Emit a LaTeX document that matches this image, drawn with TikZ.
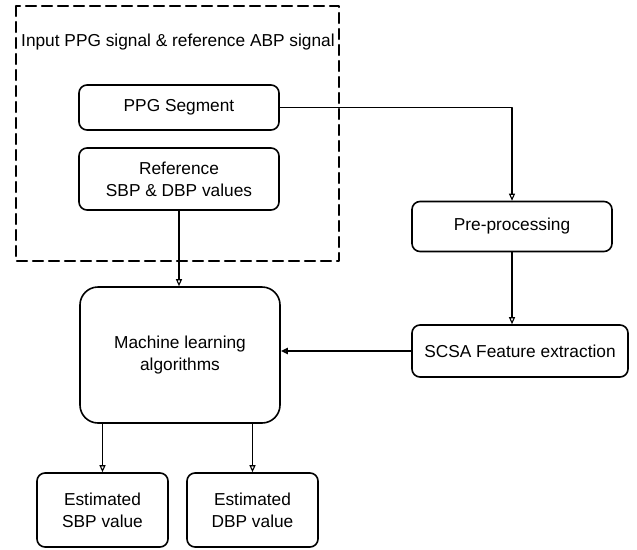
\documentclass[tikz,border=0pt]{standalone}
\usepackage{fontspec}
\setmainfont{Liberation Sans}
\usetikzlibrary{arrows.meta}

\begin{document}
\begin{tikzpicture}[x=1pt,y=-1pt,line cap=round,line join=round,
    font=\fontsize{17.3}{22}\selectfont,
    blk/.style={draw,line width=1.6pt,rounded corners=8pt,align=center,inner sep=0pt},
    flow/.style={-{Triangle[open,length=7pt,width=6pt]},line width=1.1pt}]
	\useasboundingbox (0,0) rectangle (637,549);
	% input block
	\draw [line width=2.2pt,dash pattern=on 10pt off 6pt] (16,6) rectangle (339,261);
	\node[anchor=west,inner sep=0pt] (title) at (21,42) {Input PPG signal \& reference ABP signal};
	\node[blk,minimum width=200pt,minimum height=45pt] (ppg) at (179,107.5) {PPG Segment};
	\node[blk,minimum width=200pt,minimum height=62pt] (ref) at (179,179) {Reference\\SBP \& DBP values};
	% right column
	\node[blk,minimum width=200pt,minimum height=50pt] (pre) at (512,226.5) {Pre-processing};
	\node[blk,minimum width=216pt,minimum height=52pt] (scsa) at (520,351) {SCSA Feature extraction};
	% learning + outputs
	\node[blk,rounded corners=18pt,minimum width=200pt,minimum height=136pt] (ml) at (180,355) {Machine learning\\algorithms};
	\node[blk,minimum width=131pt,minimum height=74pt] (sbp) at (102.5,510) {Estimated\\SBP value};
	\node[blk,minimum width=131pt,minimum height=74pt] (dbp) at (252.5,510) {Estimated\\DBP value};
	% connectors
	\draw [flow] (ppg.east) -| (pre.north);
	\draw [flow] (pre.south) -- (pre.south |- scsa.north);
	\draw [flow] (ref.south) -- (ref.south |- ml.north);
	\draw [flow,line width=2.2pt] (scsa.west) -- (scsa.west -| ml.east);
	\draw [flow] (sbp.north |- ml.south) -- (sbp.north);
	\draw [flow] (dbp.north |- ml.south) -- (dbp.north);
\end{tikzpicture}
\end{document}
